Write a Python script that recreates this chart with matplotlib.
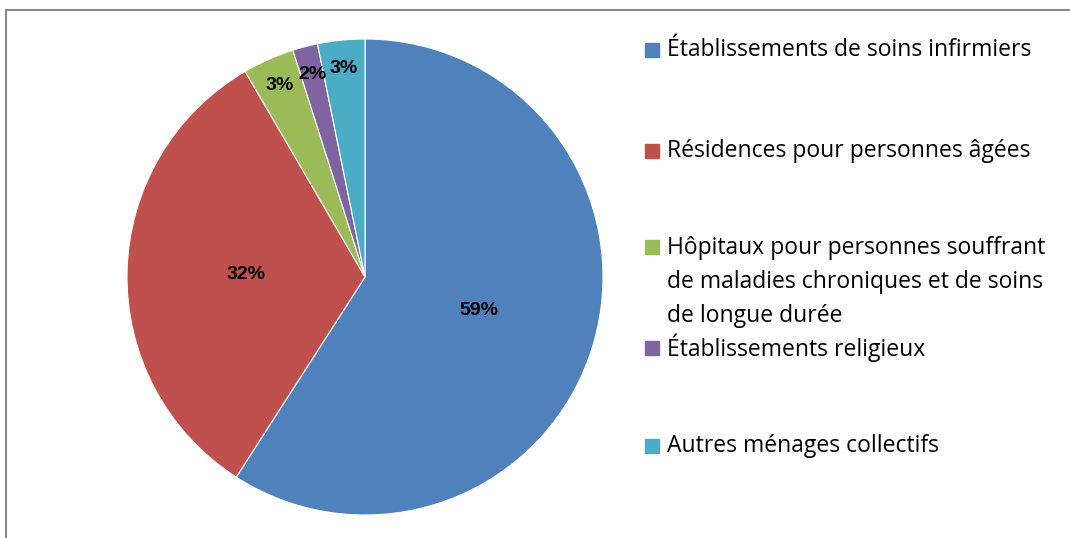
import matplotlib.pyplot as plt
from matplotlib.lines import Line2D
from matplotlib.patches import Rectangle
import numpy as np

plt.rcParams['font.family'] = ['Open Sans', 'DejaVu Sans']

categories = [
    "Établissements de soins infirmiers",
    "Résidences pour personnes âgées",
    "Hôpitaux pour personnes souffrant\nde maladies chroniques et de soins\nde longue durée",
    "Établissements religieux",
    "Autres ménages collectifs",
]
shares = [59.1, 32.5, 3.5, 1.7, 3.2]
pct_labels = ["59%", "32%", "3%", "2%", "3%"]
colors = ["#4F81BD", "#C0504D", "#9BBB59", "#8064A2", "#4BACC6"]

W, H = 1070, 538
fig = plt.figure(figsize=(W / 100, H / 100), dpi=100)

# pie axes: centre (365, 277), radius 238 px
cx, cy, r = 365, 277, 238
ax = fig.add_axes([(cx - r) / W, (H - cy - r) / H, 2 * r / W, 2 * r / H])
wedges, _ = ax.pie(shares, colors=colors, startangle=90, counterclock=False,
                   wedgeprops=dict(edgecolor='white', linewidth=0.8))
ax.set_xlim(-1, 1)
ax.set_ylim(-1, 1)
ax.set_aspect('equal')
ax.axis('off')

for w, lab, s in zip(wedges, pct_labels, shares):
    mid = np.deg2rad((w.theta1 + w.theta2) / 2)
    dist = 0.5 if s > 10 else 0.88
    ax.text(dist * np.cos(mid), dist * np.sin(mid), lab, ha='center', va='center',
            fontsize=14, fontweight='bold', color='black',
            family=['Liberation Sans', 'DejaVu Sans'])

# legend, placed like the spreadsheet layout
leg_y = [50, 151, 247, 348, 446]
for y, lab, c in zip(leg_y, categories, colors):
    fig.patches.append(Rectangle((645 / W, (H - y - 7) / H), 14 / W, 14 / H,
                                 transform=fig.transFigure, color=c))
    if '\n' in lab:
        fig.text(667 / W, (H - y - 35) / H, lab, ha='left', va='center',
                 fontsize=16.5, linespacing=1.55)
    else:
        fig.text(667 / W, (H - y) / H, lab, ha='left', va='center', fontsize=16.5)

# chart-area border (only top and left edges visible)
fig.add_artist(Line2D([6 / W, 6 / W], [0, (H - 10) / H], color='#898989', lw=1.5))
fig.add_artist(Line2D([6 / W, 1], [(H - 10) / H, (H - 10) / H], color='#898989', lw=1.5))

fig.savefig('out.png', dpi=100)
